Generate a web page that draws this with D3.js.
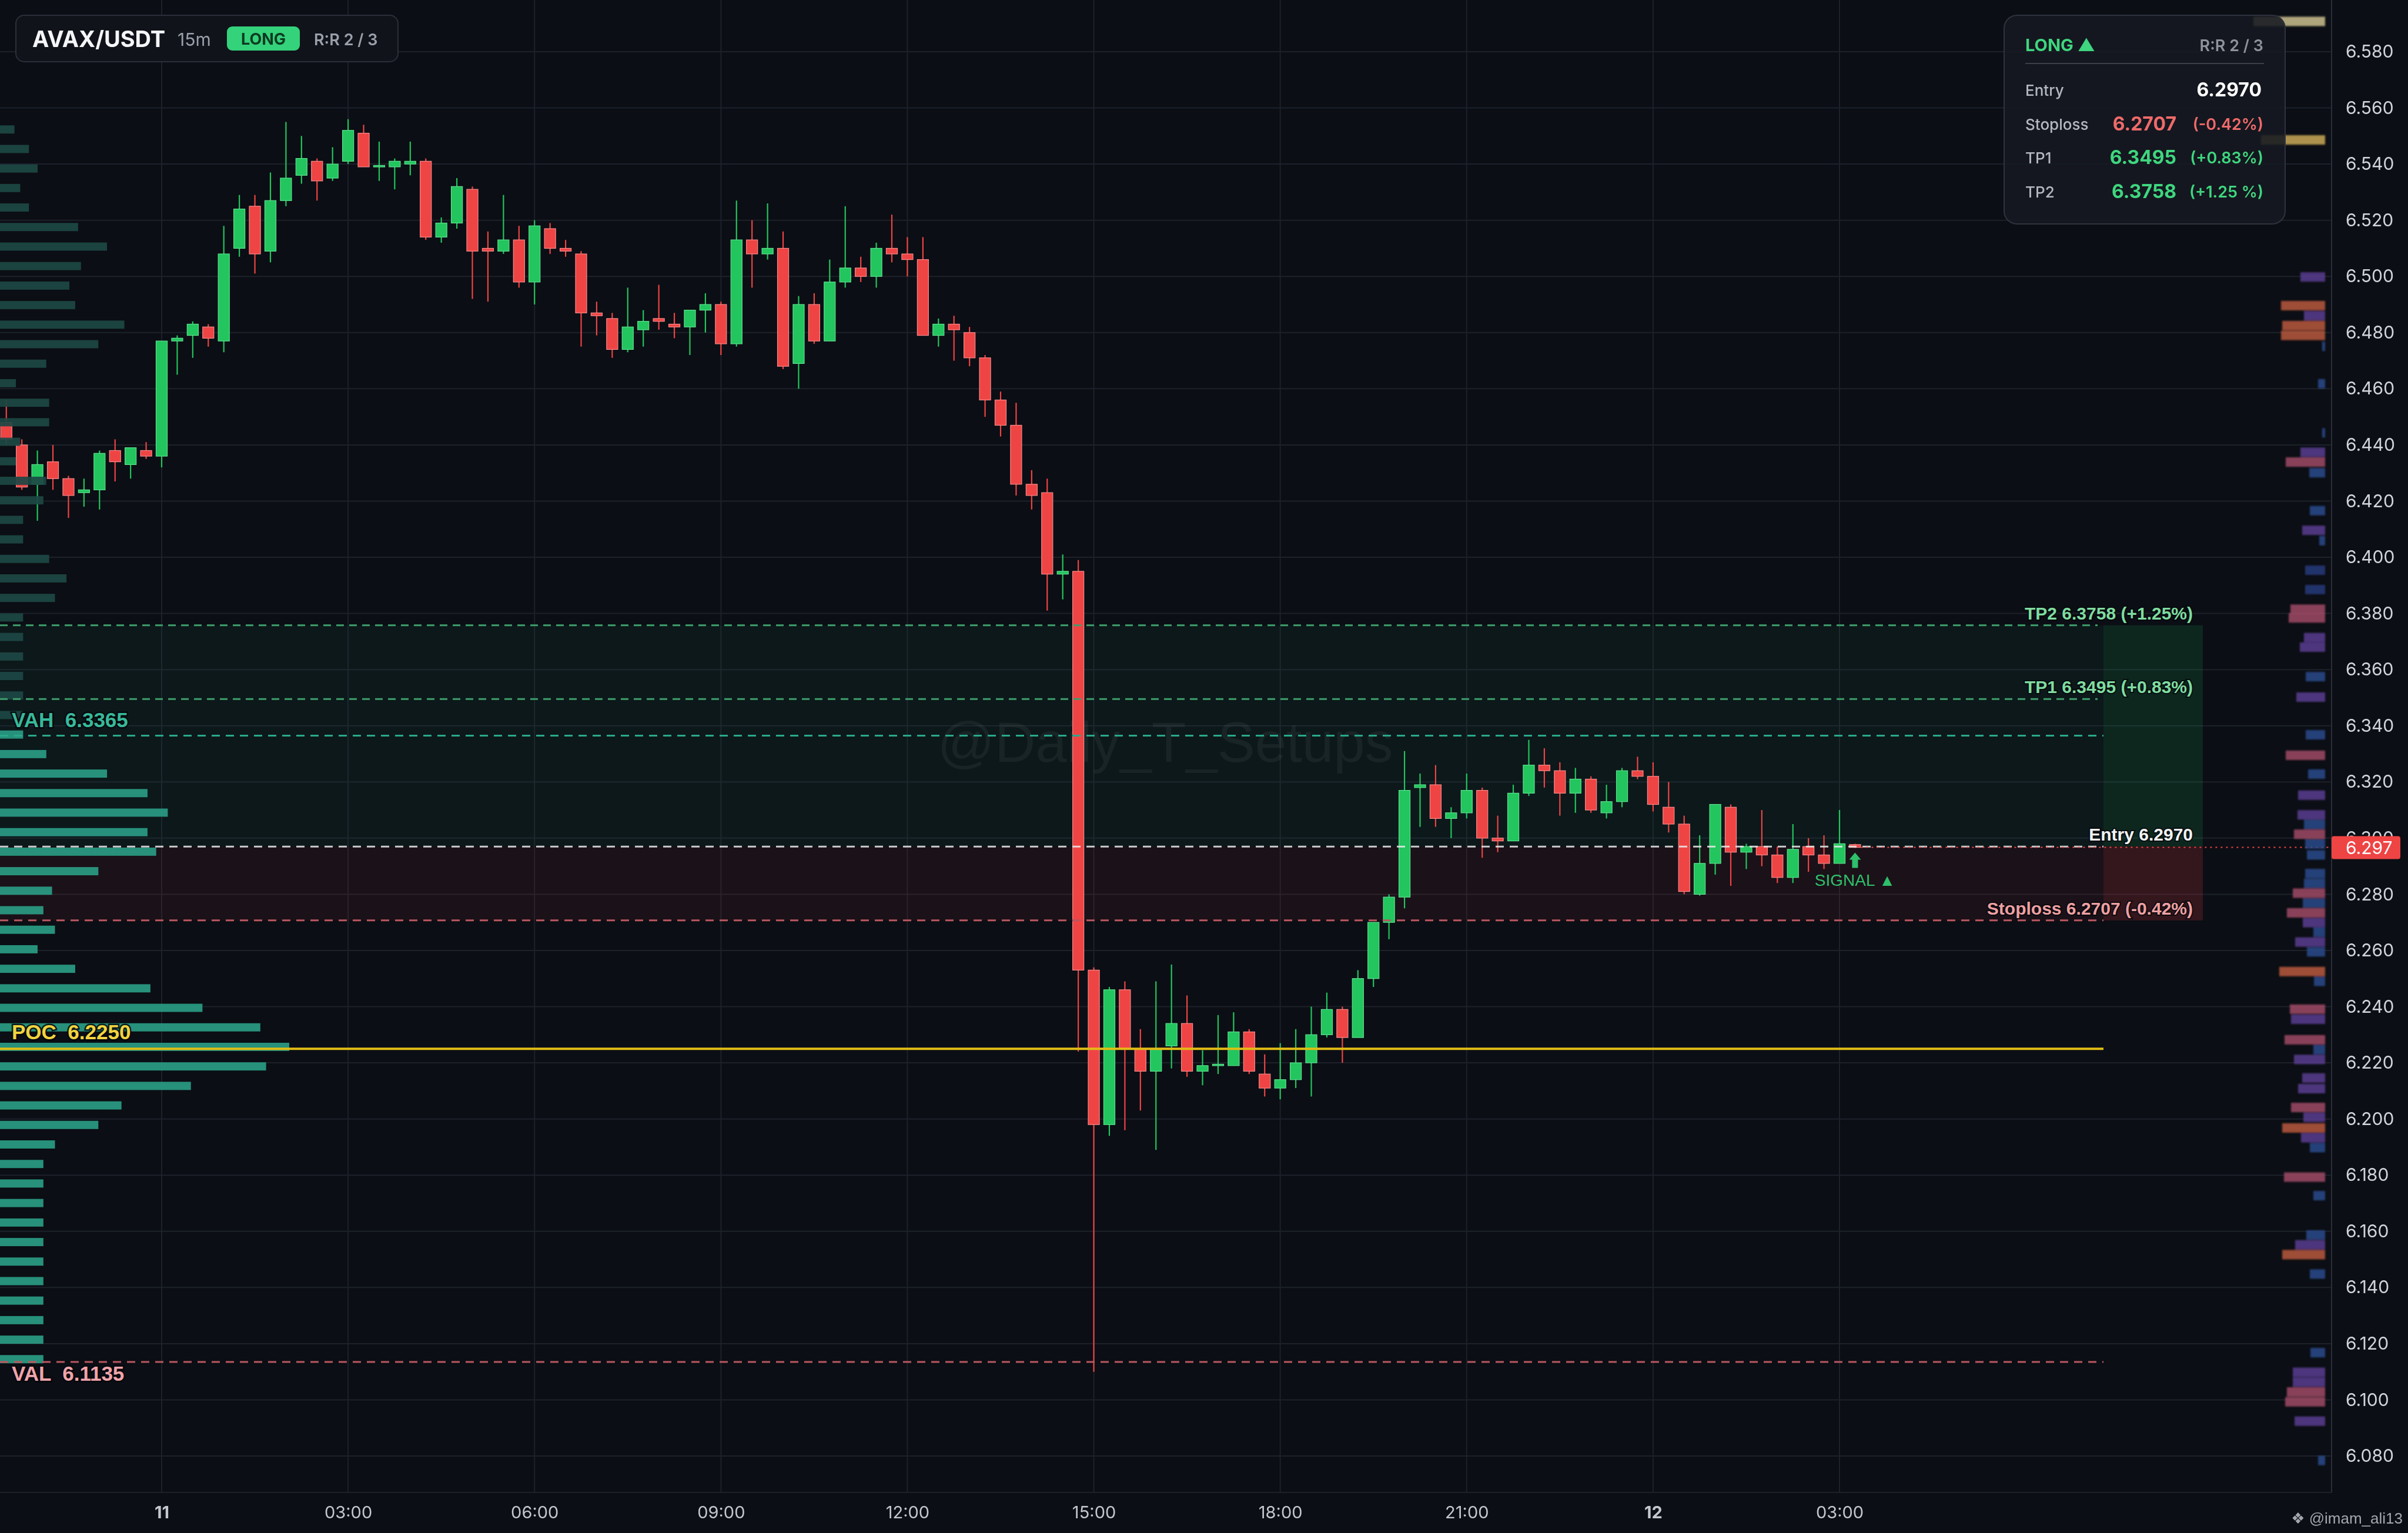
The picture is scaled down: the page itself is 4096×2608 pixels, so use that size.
<!DOCTYPE html>
<html>
<head>
<meta charset="utf-8">
<script src="https://cdn.jsdelivr.net/npm/d3@7"></script>
<style>
  html, body { margin: 0; padding: 0; background: #0b0e14; }
  svg { display: block; }
</style>
</head>
<body>
<div id="chart"></div>
<script>
// candles, 15m, first one at 10th 21:30
const candleStart = new Date(2025, 0, 10, 21, 30);
const opens = [6.448,6.440,6.426,6.434,6.428,6.423,6.424,6.438,6.433,6.438,
  6.436,6.477,6.479,6.482,6.477,6.510,6.525,6.509,6.527,6.536,6.541,6.535,6.541,6.551,6.539,6.539,6.540,6.541,6.514,6.519,
  6.531,6.510,6.509,6.513,6.498,6.517,6.510,6.508,6.487,6.485,6.474,6.481,6.485,6.483,6.482,6.488,6.490,6.476,6.513,6.508,
  6.510,6.469,6.490,6.477,6.498,6.503,6.500,6.510,6.508,6.506,6.479,6.483,6.480,6.471,6.456,6.447,6.426,6.423,6.394,6.395,
  6.253,6.198,6.246,6.225,6.217,6.226,6.234,6.217,6.219,6.219,6.231,6.216,6.211,6.214,6.220,6.230,6.239,6.229,6.250,6.270,
  6.279,6.318,6.319,6.307,6.309,6.317,6.300,6.299,6.316,6.326,6.324,6.316,6.321,6.309,6.313,6.324,6.322,6.311,6.305,6.280,
  6.291,6.311,6.295,6.297,6.294,6.286,6.297,6.294,6.291,6.2977];
const highs = [6.456,6.442,6.438,6.440,6.429,6.428,6.438,6.442,6.439,6.441,
  6.477,6.479,6.484,6.483,6.518,6.529,6.529,6.537,6.555,6.550,6.542,6.546,6.556,6.554,6.548,6.542,6.548,6.542,6.521,6.535,
  6.532,6.516,6.529,6.518,6.520,6.519,6.513,6.509,6.491,6.487,6.496,6.488,6.497,6.487,6.488,6.494,6.491,6.527,6.520,6.526,
  6.516,6.493,6.494,6.506,6.525,6.507,6.512,6.522,6.514,6.514,6.485,6.486,6.482,6.472,6.459,6.455,6.431,6.428,6.401,6.399,
  6.254,6.247,6.249,6.232,6.249,6.255,6.244,6.2245,6.237,6.238,6.232,6.223,6.227,6.232,6.240,6.245,6.240,6.253,6.270,6.280,
  6.331,6.323,6.326,6.311,6.323,6.318,6.308,6.319,6.335,6.332,6.327,6.325,6.322,6.319,6.325,6.329,6.327,6.320,6.308,6.301,
  6.312,6.312,6.298,6.310,6.297,6.305,6.300,6.301,6.310,6.298];
const lows = [6.440,6.424,6.413,6.424,6.414,6.418,6.417,6.427,6.428,6.435,
  6.432,6.465,6.471,6.475,6.473,6.507,6.501,6.505,6.525,6.533,6.527,6.534,6.540,6.539,6.534,6.531,6.536,6.513,6.512,6.517,
  6.492,6.491,6.508,6.496,6.490,6.508,6.507,6.475,6.479,6.471,6.473,6.475,6.481,6.478,6.472,6.480,6.472,6.475,6.496,6.506,
  6.467,6.460,6.476,6.477,6.496,6.498,6.496,6.505,6.500,6.479,6.475,6.470,6.468,6.450,6.443,6.422,6.417,6.381,6.385,6.224,
  6.110,6.194,6.196,6.203,6.189,6.218,6.215,6.212,6.216,6.219,6.216,6.208,6.207,6.211,6.208,6.229,6.220,6.229,6.247,6.264,
  6.275,6.304,6.304,6.300,6.307,6.293,6.295,6.299,6.315,6.318,6.308,6.309,6.309,6.307,6.311,6.321,6.3095,6.302,6.280,6.2795,
  6.287,6.283,6.289,6.290,6.284,6.284,6.288,6.289,6.291,6.2965];
const closes = [6.442,6.425,6.433,6.428,6.422,6.424,6.437,6.434,6.439,6.436,
  6.477,6.478,6.483,6.478,6.508,6.524,6.508,6.527,6.535,6.542,6.534,6.540,6.552,6.539,6.5395,6.541,6.541,6.514,6.519,6.532,
  6.509,6.509,6.513,6.498,6.518,6.510,6.509,6.487,6.486,6.474,6.482,6.484,6.484,6.482,6.488,6.490,6.476,6.513,6.508,6.510,
  6.468,6.490,6.477,6.498,6.503,6.500,6.510,6.508,6.506,6.479,6.483,6.481,6.471,6.456,6.447,6.426,6.422,6.394,6.395,6.253,
  6.198,6.246,6.225,6.217,6.225,6.234,6.217,6.219,6.2195,6.231,6.217,6.211,6.214,6.220,6.230,6.239,6.229,6.250,6.270,6.279,
  6.317,6.319,6.307,6.309,6.317,6.300,6.299,6.316,6.326,6.324,6.316,6.321,6.310,6.313,6.324,6.322,6.312,6.305,6.281,6.291,
  6.312,6.295,6.297,6.294,6.286,6.296,6.294,6.291,6.298,6.2967];

// trade levels
const entryPrice = 6.2970, stopPrice = 6.2707, tp1Price = 6.3495, tp2Price = 6.3758;
const vahPrice = 6.3365, pocPrice = 6.2250, valPrice = 6.1135;

// left volume profile (bottom bin first)
const profileLow = 6.1110, profileStep = 0.00695;
const profileVolume = [15,15,15,15,15,15,15,15,15,15,15,19,34,42,66,92,100,90,70,52,26,13,19,15,18,34,54,51,58,51,37,16,8,
  8,8,8,8,8,8,19,23,17,8,8,15,16,5.5,7,17,17,5.5,16,34,43,26,24,28,37,27,10,7,13,10,5];

// right side heat bars
const heatPrice = [6.5908,6.5486,6.4998,6.4896,6.4860,6.4825,6.4790,6.4751,6.4618,6.4443,6.4374,6.4339,6.4301,6.4166,6.4096,6.4059,
  6.3954,6.3885,6.3815,6.3784,6.3714,6.3680,6.3575,6.3502,6.3368,6.3295,6.3228,6.3153,6.3083,6.3049,6.3014,6.2979,6.2940,6.2874,
  6.2839,6.2804,6.2769,6.2734,6.2699,6.2665,6.2630,6.2595,6.2525,6.2490,6.2391,6.2355,6.2282,6.2247,6.2212,6.2146,6.2108,6.2041,
  6.2006,6.1968,6.1933,6.1898,6.1793,6.1727,6.1587,6.1552,6.1517,6.1448,6.1168,6.1098,6.1063,6.1028,6.0993,6.0924,6.0784];
const heatSize = [122,109,42,75,36,73,75,5,12,5,42,67,27,26,39,10,
  34,34,59,62,36,43,33,49,33,67,29,46,47,36,53,34,31,34,
  36,55,38,65,38,20,51,31,78,19,60,58,69,20,53,39,46,58,
  37,73,41,26,70,20,32,51,73,26,25,55,55,65,68,52,12];
const heatTone = ["sand","gold","purple","orange","purple","orange","orange","blue","blue","blue","purple","pink","blue","blue","purple","blue",
  "navy","navy","pink","pink","purple","purple","blue","purple","blue","pink","blue","purple","purple","blue","pink","blue","blue","blue",
  "blue","pink","blue","pink","purple","blue","purple","blue","orange","blue","pink","purple","pink","blue","purple","purple","purple","pink",
  "purple","orange","purple","blue","pink","blue","blue","purple","orange","blue","blue","purple","purple","pink","pink","purple","blue"];

const yTicks = [6.08,6.10,6.12,6.14,6.16,6.18,6.20,6.22,6.24,6.26,6.28,6.30,6.32,6.34,6.36,6.38,6.40,6.42,6.44,6.46,6.48,6.50,6.52,6.54,6.56,6.58];

const W = 4096, H = 2608;
const plotRight = 3966, plotBottom = 2539;
const zoneEnd = 3747, boxStart = 3578;

const bg = "#0b0e14", gridCol = "#1d212a";
const upCol = "#22c55e", downCol = "#ef4444";
const heatColors = {sand:"#cdbf8e", gold:"#c9a955", purple:"#5b3d91", orange:"#b9583d", pink:"#a04a66", blue:"#2b4a8c", navy:"#27387a"};

const svg = d3.select("#chart").append("svg")
  .attr("width", W).attr("height", H)
  .style("background", bg);

const defs = svg.append("defs");
defs.append("clipPath").attr("id", "plotClip")
  .append("rect").attr("x", 0).attr("y", 0).attr("width", plotRight).attr("height", plotBottom);
defs.append("filter").attr("id", "soft")
  .append("feGaussianBlur").attr("stdDeviation", 1.4);

// scales
const y = d3.scaleLinear().domain([6.08, 6.58]).range([2477, 88]);
const x = d3.scaleTime()
  .domain([new Date(2025, 0, 11, 0, 0), new Date(2025, 0, 12, 3, 0)])
  .range([275, 3129]);

const candleTime = i => new Date(candleStart.getTime() + i * 15 * 60000);
const candles = opens.map((o, i) => ({t: candleTime(i), o: o, h: highs[i], l: lows[i], c: closes[i]}));
const step = x(candleTime(1)) - x(candleTime(0));
const bodyW = step * 0.72;

const plot = svg.append("g").attr("clip-path", "url(#plotClip)");

// grid
const xTicks = d3.timeHours(new Date(2025, 0, 11, 0), new Date(2025, 0, 12, 3, 1), 3);
plot.append("g").selectAll("line").data(yTicks).enter().append("line")
  .attr("x1", 0).attr("x2", plotRight)
  .attr("y1", d => y(d)).attr("y2", d => y(d))
  .attr("stroke", gridCol).attr("stroke-width", 2);
plot.append("g").selectAll("line").data(xTicks).enter().append("line")
  .attr("x1", d => x(d)).attr("x2", d => x(d))
  .attr("y1", 0).attr("y2", plotBottom)
  .attr("stroke", gridCol).attr("stroke-width", 2);

// watermark
plot.append("text")
  .attr("x", 1982).attr("y", 1296)
  .attr("text-anchor", "middle")
  .attr("font-family", "Liberation Sans, Arial, sans-serif")
  .attr("font-size", 96)
  .attr("fill", "rgba(255,255,255,0.055)")
  .text("@Daily_T_Setups");

// target / stop zones
plot.append("rect")
  .attr("x", 0).attr("width", zoneEnd)
  .attr("y", y(tp2Price)).attr("height", y(entryPrice) - y(tp2Price))
  .attr("fill", "rgba(30,160,110,0.07)");
plot.append("rect")
  .attr("x", boxStart).attr("width", zoneEnd - boxStart)
  .attr("y", y(tp2Price)).attr("height", y(entryPrice) - y(tp2Price))
  .attr("fill", "rgba(34,197,94,0.09)");
plot.append("rect")
  .attr("x", 0).attr("width", zoneEnd)
  .attr("y", y(entryPrice)).attr("height", y(stopPrice) - y(entryPrice))
  .attr("fill", "rgba(220,60,80,0.08)");
plot.append("rect")
  .attr("x", boxStart).attr("width", zoneEnd - boxStart)
  .attr("y", y(entryPrice)).attr("height", y(stopPrice) - y(entryPrice))
  .attr("fill", "rgba(239,68,68,0.12)");

// candles
const cg = plot.append("g");
cg.selectAll(".wick").data(candles).enter().append("line")
  .attr("x1", d => x(d.t)).attr("x2", d => x(d.t))
  .attr("y1", d => y(d.h)).attr("y2", d => y(d.l))
  .attr("stroke", d => d.c >= d.o ? upCol : downCol)
  .attr("stroke-width", 2.2);
cg.selectAll(".body").data(candles).enter().append("rect")
  .attr("x", d => x(d.t) - bodyW / 2)
  .attr("width", bodyW)
  .attr("y", d => y(Math.max(d.o, d.c)))
  .attr("height", d => Math.max(2.5, Math.abs(y(d.o) - y(d.c))))
  .attr("fill", d => d.c >= d.o ? upCol : downCol)
  .attr("stroke", d => d.c >= d.o ? "#5fe08f" : "#f58a8a")
  .attr("stroke-width", 1.2);

// left volume profile
const vx = d3.scaleLinear().domain([0, 100]).range([0, 492]);
const binH = (y(profileLow) - y(profileLow + profileStep)) * 0.42;
plot.append("g").selectAll("rect").data(profileVolume).enter().append("rect")
  .attr("x", 0)
  .attr("y", (d, k) => y(profileLow + (k + 0.5) * profileStep) - binH / 2)
  .attr("width", d => vx(d))
  .attr("height", binH)
  .attr("fill", (d, k) => {
    const p = profileLow + (k + 0.5) * profileStep;
    return (p <= vahPrice + 0.001 && p >= valPrice - 0.002) ? "#2a9c84" : "#1d4844";
  })
  .attr("opacity", 0.92);

// level lines
const lines = plot.append("g");
function hline(price, x2, col, dash, w) {
  lines.append("line")
    .attr("x1", 0).attr("x2", x2)
    .attr("y1", y(price)).attr("y2", y(price))
    .attr("stroke", col).attr("stroke-width", w)
    .attr("stroke-dasharray", dash);
}
hline(tp2Price, 3568, "#3f9d6b", "13,9", 3);
hline(tp1Price, 3568, "#3f9d6b", "13,9", 3);
hline(vahPrice, boxStart, "#2aa88c", "14,10", 3);
hline(stopPrice, boxStart, "#b95660", "14,10", 3);
hline(valPrice, boxStart, "#b95660", "14,10", 3);
hline(entryPrice, boxStart, "rgba(235,235,235,0.85)", "14,10", 3);
hline(pocPrice, boxStart, "#e2bd14", null, 4);

// current price line
const last = candles[candles.length - 1];
lines.append("line")
  .attr("x1", x(last.t) + 10).attr("x2", plotRight)
  .attr("y1", y(last.c)).attr("y2", y(last.c))
  .attr("stroke", "#ef4444").attr("stroke-width", 2)
  .attr("stroke-dasharray", "3,6");

// level labels on the right of the zone
const pct = p => {
  const v = (p / entryPrice - 1) * 100;
  return (v >= 0 ? "+" : "-") + Math.abs(v).toFixed(2) + "%";
};
const rightLabels = [
  {p: tp2Price, text: "TP2 " + tp2Price.toFixed(4) + " (" + pct(tp2Price) + ")", col: "#7fdca0"},
  {p: tp1Price, text: "TP1 " + tp1Price.toFixed(4) + " (" + pct(tp1Price) + ")", col: "#7fdca0"},
  {p: entryPrice, text: "Entry " + entryPrice.toFixed(4), col: "#f2f2f2"},
  {p: stopPrice, text: "Stoploss " + stopPrice.toFixed(4) + " (" + pct(stopPrice) + ")", col: "#eea0a2"}
];
plot.append("g").selectAll("text").data(rightLabels).enter().append("text")
  .attr("x", 3730)
  .attr("y", d => y(d.p) - 10)
  .attr("text-anchor", "end")
  .attr("font-family", "Liberation Sans, Arial, sans-serif")
  .attr("font-weight", "bold")
  .attr("font-size", 30)
  .attr("fill", d => d.col)
  .attr("stroke", "rgba(5,8,12,0.8)").attr("stroke-width", 4)
  .attr("paint-order", "stroke")
  .text(d => d.text);

// left labels VAH / POC / VAL
const leftLabels = [
  {p: vahPrice, dy: -14, text: "VAH  " + vahPrice.toFixed(4), col: "#38b99a"},
  {p: pocPrice, dy: -16, text: "POC  " + pocPrice.toFixed(4), col: "#f1d33e"},
  {p: valPrice, dy: 32, text: "VAL  " + valPrice.toFixed(4), col: "#f0a3aa"}
];
plot.append("g").selectAll("text").data(leftLabels).enter().append("text")
  .attr("x", 20)
  .attr("y", d => y(d.p) + d.dy)
  .style("white-space", "pre")
  .attr("font-family", "Liberation Sans, Arial, sans-serif")
  .attr("font-weight", "bold")
  .attr("font-size", 35)
  .attr("fill", d => d.col)
  .attr("stroke", "rgba(5,8,12,0.85)").attr("stroke-width", 5)
  .attr("paint-order", "stroke")
  .text(d => d.text);

// signal arrow under last candle
const ax = x(last.t), ay = y(last.l) + 8;
plot.append("path")
  .attr("d", "M" + ax + "," + ay + "l10,12h-5v14h-10v-14h-5z")
  .attr("fill", "#2fbf6b");
plot.append("text")
  .attr("x", ax).attr("y", ay + 56)
  .attr("text-anchor", "middle")
  .attr("font-family", "Liberation Sans, Arial, sans-serif")
  .attr("font-size", 28)
  .attr("fill", "#2fbf6b")
  .text("SIGNAL ▲");

// right heat bars
svg.append("g").attr("filter", "url(#soft)")
  .selectAll("rect").data(heatPrice).enter().append("rect")
  .attr("x", (d, i) => 3955 - heatSize[i])
  .attr("y", d => y(d) - 8)
  .attr("width", (d, i) => heatSize[i])
  .attr("height", 16)
  .attr("fill", (d, i) => heatColors[heatTone[i]])
  .attr("opacity", 0.85);

// y axis
svg.append("line")
  .attr("x1", plotRight).attr("x2", plotRight)
  .attr("y1", 0).attr("y2", plotBottom)
  .attr("stroke", "#2a2e38").attr("stroke-width", 2);
svg.append("line")
  .attr("x1", 0).attr("x2", plotRight)
  .attr("y1", plotBottom).attr("y2", plotBottom)
  .attr("stroke", "#1d212a").attr("stroke-width", 2);

const yAxis = svg.append("g")
  .attr("transform", "translate(" + plotRight + ",0)")
  .call(d3.axisRight(y).tickValues(yTicks).tickFormat(d3.format(".3f")).tickSize(0).tickPadding(24));
yAxis.select(".domain").remove();
yAxis.selectAll("text")
  .attr("font-family", "Inter, Liberation Sans, sans-serif")
  .attr("font-size", 30)
  .attr("fill", "#d1d4dc");

// last price tag
svg.append("rect")
  .attr("x", plotRight).attr("y", y(last.c) - 19)
  .attr("width", 117).attr("height", 39).attr("rx", 4)
  .attr("fill", "#ef4444");
svg.append("text")
  .attr("x", plotRight + 24).attr("y", y(last.c) + 11)
  .attr("font-family", "Inter, Liberation Sans, sans-serif")
  .attr("font-size", 30)
  .attr("fill", "#ffffff")
  .text(d3.format(".3f")(last.c));

// x axis
const xAxis = svg.append("g")
  .attr("transform", "translate(0," + plotBottom + ")")
  .call(d3.axisBottom(x).tickValues(xTicks)
    .tickFormat(d => d.getHours() === 0 ? d3.timeFormat("%-d")(d) : d3.timeFormat("%H:%M")(d))
    .tickSize(0).tickPadding(23));
xAxis.select(".domain").remove();
xAxis.selectAll("text")
  .attr("font-family", "Inter, Liberation Sans, sans-serif")
  .attr("font-size", 29)
  .attr("font-weight", d => d.getHours() === 0 ? "bold" : "normal")
  .attr("fill", "#c3c7cf");

svg.append("text")
  .attr("x", 4087).attr("y", 2592)
  .attr("text-anchor", "end")
  .attr("font-family", "Liberation Sans, DejaVu Sans, sans-serif")
  .attr("font-size", 26)
  .attr("fill", "#a3a7ae")
  .text("❖ @imam_ali13");

// header box
const head = svg.append("g");
head.append("rect")
  .attr("x", 27).attr("y", 26).attr("width", 650).attr("height", 79).attr("rx", 14)
  .attr("fill", "#10131a").attr("stroke", "#2a2f3a").attr("stroke-width", 2);
head.append("text")
  .attr("x", 55).attr("y", 80)
  .attr("font-family", "Inter, Liberation Sans, sans-serif")
  .attr("font-weight", "bold").attr("font-size", 38)
  .attr("fill", "#f5f6f8").text("AVAX/USDT");
head.append("text")
  .attr("x", 302).attr("y", 78)
  .attr("font-family", "Inter, Liberation Sans, sans-serif")
  .attr("font-size", 30).attr("fill", "#9aa0aa").text("15m");
head.append("rect")
  .attr("x", 386).attr("y", 45).attr("width", 124).attr("height", 41).attr("rx", 9)
  .attr("fill", "#34d27b");
head.append("text")
  .attr("x", 448).attr("y", 76).attr("text-anchor", "middle")
  .attr("font-family", "Inter, Liberation Sans, sans-serif")
  .attr("font-weight", "bold").attr("font-size", 27)
  .attr("fill", "#0c3a20").text("LONG");
head.append("text")
  .attr("x", 534).attr("y", 77)
  .attr("font-family", "Inter, Liberation Sans, sans-serif")
  .attr("font-weight", 600).attr("font-size", 27)
  .attr("fill", "#9aa0aa").text("R:R 2 / 3");

// info box
const info = svg.append("g");
info.append("rect")
  .attr("x", 3409).attr("y", 26).attr("width", 478).attr("height", 355).attr("rx", 22)
  .attr("fill", "rgba(22,25,33,0.88)").attr("stroke", "#2e333e").attr("stroke-width", 2);
info.append("text")
  .attr("x", 3445).attr("y", 87)
  .attr("font-family", "Inter, Liberation Sans, sans-serif")
  .attr("font-weight", "bold").attr("font-size", 29)
  .attr("fill", "#3fd67f").text("LONG ▲");
info.append("text")
  .attr("x", 3850).attr("y", 87).attr("text-anchor", "end")
  .attr("font-family", "Inter, Liberation Sans, sans-serif")
  .attr("font-weight", 600).attr("font-size", 27)
  .attr("fill", "#8d929b").text("R:R 2 / 3");
info.append("line")
  .attr("x1", 3445).attr("x2", 3851).attr("y1", 108).attr("y2", 108)
  .attr("stroke", "#3a3f4a").attr("stroke-width", 2);

const infoRows = [
  {label: "Entry", value: entryPrice.toFixed(4), pct: "", col: "#ffffff", y: 163},
  {label: "Stoploss", value: stopPrice.toFixed(4), pct: "(-0.42%)", col: "#ef6a6a", y: 221},
  {label: "TP1", value: tp1Price.toFixed(4), pct: "(+0.83%)", col: "#3fd67f", y: 278},
  {label: "TP2", value: tp2Price.toFixed(4), pct: "(+1.25 %)", col: "#3fd67f", y: 336}
];
const rows = info.selectAll(".row").data(infoRows).enter().append("g");
rows.append("text")
  .attr("x", 3445).attr("y", d => d.y)
  .attr("font-family", "Inter, Liberation Sans, sans-serif")
  .attr("font-weight", 500).attr("font-size", 26)
  .attr("fill", "#b3b7bf").text(d => d.label);
rows.append("text")
  .attr("x", d => d.pct ? 3702 : 3847).attr("y", d => d.y + 1)
  .attr("text-anchor", "end")
  .attr("font-family", "Inter, Liberation Sans, sans-serif")
  .attr("font-weight", "bold").attr("font-size", 32)
  .attr("fill", d => d.col).text(d => d.value);
rows.append("text")
  .attr("x", 3850).attr("y", d => d.y)
  .attr("text-anchor", "end")
  .attr("font-family", "Inter, Liberation Sans, sans-serif")
  .attr("font-weight", 600).attr("font-size", 27)
  .attr("fill", d => d.col).text(d => d.pct);
</script>
</body>
</html>
